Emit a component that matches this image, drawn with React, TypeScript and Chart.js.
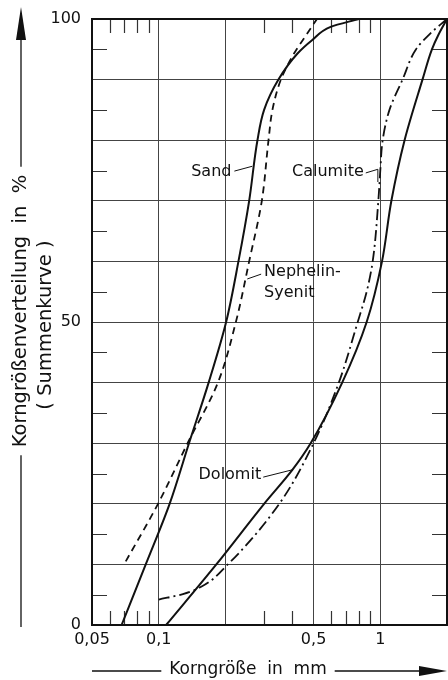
import React, { useEffect, useRef } from 'react';
import { Chart, registerables } from 'chart.js';

Chart.register(...registerables);

// ---- data ----
const sandX = [0.068, 0.0874, 0.112, 0.137, 0.168, 0.2015, 0.229, 0.256, 0.279, 0.299, 0.347, 0.423, 0.492, 0.597, 0.8];
const sandY = [0, 10, 20, 30, 40, 50, 60, 70, 80, 85, 90, 94.3, 96.5, 98.7, 100];

const nephelinX = [0.071, 0.0993, 0.135, 0.185, 0.223, 0.256, 0.292, 0.313, 0.326, 0.356, 0.408, 0.468, 0.518];
const nephelinY = [10.5, 20, 30, 40, 50, 60, 70, 80, 85, 90, 94.3, 97.6, 100];

const dolomitX = [0.108, 0.182, 0.299, 0.401, 0.485, 0.673, 0.868, 1.018, 1.122, 1.287, 1.55, 1.71, 1.83, 2.0];
const dolomitY = [0, 10, 20, 25.6, 30, 40, 50, 60, 70, 80, 90, 95, 97.4, 100];

const calumiteX = [0.1, 0.1286, 0.1555, 0.205, 0.35, 0.5, 0.65, 0.791, 0.868, 0.924, 0.98, 1.0, 1.025, 1.1, 1.26, 1.45, 1.68, 2.0];
const calumiteY = [4.2, 5.1, 6.3, 10, 20, 30, 40, 50, 55, 60, 70, 75, 80, 85, 90, 95, 97.6, 100];

const xGridValues = [0.05, 0.1, 0.2, 0.5, 1, 2];
const xTickLabels: [number, string][] = [[0.05, '0,05'], [0.1, '0,1'], [0.5, '0,5'], [1, '1']];
const xMinorTicks = [0.06, 0.07, 0.08, 0.09, 0.3, 0.4, 0.6, 0.7, 0.8, 0.9];
const yGridValues = [0, 10, 20, 30, 40, 50, 60, 70, 80, 90, 100];
const yTickLabels: [number, string][] = [[0, '0'], [50, '50'], [100, '100']];
const yMinorTicks = [5, 15, 25, 35, 45, 55, 65, 75, 85, 95];

const xTitle = 'Korngröße  in  mm';
const yTitle = 'Korngrößenverteilung  in  %';
const yTitle2 = '( Summenkurve )';

type Label = { lines: string[]; x: number; y: number; align: CanvasTextAlign; leader: [number, number][] };
const curveLabels: Label[] = [
  { lines: ['Sand'], x: 0.213, y: 74.75, align: 'right', leader: [[0.2195, 74.9], [0.2644, 75.7]] },
  { lines: ['Calumite'], x: 0.842, y: 74.75, align: 'right', leader: [[0.86, 74.6], [0.975, 75.2], [0.975, 73.1]] },
  { lines: ['Nephelin-', 'Syenit'], x: 0.299, y: 58.25, align: 'left', leader: [[0.29, 57.9], [0.251, 57.1]] },
  { lines: ['Dolomit'], x: 0.29, y: 24.75, align: 'right', leader: [[0.2963, 24.4], [0.4, 25.6]] },
];

const FONT = '"DejaVu Sans", "Liberation Sans", sans-serif';
const INK = '#111';

const pts = (xs: number[], ys: number[]) => xs.map((x, i) => ({ x, y: ys[i] }));
const labelFor = (list: [number, string][], v: number) => {
  const f = list.find(([k]) => Math.abs(k - v) / Math.max(k, 1e-9) < 1e-6 || Math.abs(k - v) < 1e-9);
  return f ? f[1] : '';
};

const decorPlugin = {
  id: 'decor',
  beforeDatasetsDraw(chart: any) {
    const { ctx, chartArea: a, scales } = chart;
    const xs = scales.x, ys = scales.y;
    ctx.save();
    ctx.strokeStyle = '#333';
    ctx.lineWidth = 1.2;
    ctx.beginPath();
    xMinorTicks.forEach((v) => {
      const px = Math.round(xs.getPixelForValue(v)) + 0.5;
      ctx.moveTo(px, a.bottom); ctx.lineTo(px, a.bottom - 14);
      ctx.moveTo(px, a.top); ctx.lineTo(px, a.top + 14);
    });
    yMinorTicks.forEach((v) => {
      const py = Math.round(ys.getPixelForValue(v)) + 0.5;
      ctx.moveTo(a.left, py); ctx.lineTo(a.left + 15, py);
      ctx.moveTo(a.right, py); ctx.lineTo(a.right - 15, py);
    });
    ctx.stroke();
    ctx.restore();
  },
  afterDatasetsDraw(chart: any) {
    const { ctx, chartArea: a, scales } = chart;
    const xs = scales.x, ys = scales.y;
    ctx.save();
    ctx.strokeStyle = INK;
    ctx.lineWidth = 2;
    ctx.strokeRect(a.left, a.top, a.right - a.left, a.bottom - a.top);
    ctx.fillStyle = INK;
    ctx.font = `16px ${FONT}`;
    ctx.textBaseline = 'middle';
    curveLabels.forEach((l) => {
      const px = xs.getPixelForValue(l.x);
      const py = ys.getPixelForValue(l.y);
      ctx.textAlign = l.align;
      l.lines.forEach((t, i) => ctx.fillText(t, px, py + i * 21));
      ctx.lineWidth = 1;
      ctx.beginPath();
      l.leader.forEach(([lx, ly], i) => {
        const qx = xs.getPixelForValue(lx), qy = ys.getPixelForValue(ly);
        if (i === 0) ctx.moveTo(qx, qy); else ctx.lineTo(qx, qy);
      });
      ctx.stroke();
    });
    ctx.restore();
  },
  afterDraw(chart: any) {
    const { ctx, chartArea: a } = chart;
    ctx.save();
    ctx.fillStyle = INK;
    ctx.strokeStyle = INK;
    ctx.lineWidth = 1.3;
    // x title
    ctx.font = `17px ${FONT}`;
    ctx.textAlign = 'center';
    ctx.textBaseline = 'middle';
    const xcx = 248, xcy = 671;
    ctx.fillText(xTitle, xcx, xcy - 1);
    const xw = ctx.measureText(xTitle).width;
    ctx.beginPath();
    ctx.moveTo(a.left, xcy); ctx.lineTo(xcx - xw / 2 - 8, xcy);
    ctx.moveTo(xcx + xw / 2 + 8, xcy); ctx.lineTo(421, xcy);
    ctx.stroke();
    ctx.beginPath();
    ctx.moveTo(447, xcy); ctx.lineTo(419, xcy - 5); ctx.lineTo(419, xcy + 5); ctx.closePath();
    ctx.fill();
    // y title
    const ycx = 21, ycy = 311;
    ctx.font = `19.5px ${FONT}`;
    const yw = ctx.measureText(yTitle).width;
    ctx.save();
    ctx.translate(ycx, ycy);
    ctx.rotate(-Math.PI / 2);
    ctx.fillText(yTitle, 0, 0);
    ctx.restore();
    ctx.save();
    ctx.translate(46, 325);
    ctx.rotate(-Math.PI / 2);
    ctx.fillText(yTitle2, 0, 0);
    ctx.restore();
    ctx.beginPath();
    ctx.moveTo(ycx, 38); ctx.lineTo(ycx, ycy - yw / 2 - 8);
    ctx.moveTo(ycx, ycy + yw / 2 + 8); ctx.lineTo(ycx, 627);
    ctx.stroke();
    ctx.beginPath();
    ctx.moveTo(ycx, 7); ctx.lineTo(ycx - 5, 40); ctx.lineTo(ycx + 5, 40); ctx.closePath();
    ctx.fill();
    ctx.restore();
  },
};

export default function App() {
  const ref = useRef<HTMLCanvasElement | null>(null);
  useEffect(() => {
    if (!ref.current) return;
    const chart = new Chart(ref.current, {
      type: 'line',
      data: {
        datasets: [
          { label: 'Sand', data: pts(sandX, sandY), borderColor: INK, borderWidth: 2 },
          { label: 'Nephelin-Syenit', data: pts(nephelinX, nephelinY), borderColor: INK, borderWidth: 1.8, borderDash: [7, 5] },
          { label: 'Calumite', data: pts(calumiteX, calumiteY), borderColor: INK, borderWidth: 1.8, borderDash: [11, 4, 2, 4] },
          { label: 'Dolomit', data: pts(dolomitX, dolomitY), borderColor: INK, borderWidth: 2 },
        ].map((d) => ({ ...d, pointRadius: 0, fill: false, cubicInterpolationMode: 'monotone' as const, backgroundColor: INK })),
      },
      options: {
        indexAxis: 'y',
        animation: false,
        responsive: false,
        events: [],
        layout: { padding: { top: 19, right: 1, left: 0, bottom: 0 } },
        plugins: { legend: { display: false }, tooltip: { enabled: false } },
        scales: {
          x: {
            type: 'logarithmic',
            position: 'bottom',
            min: 0.05,
            max: 2,
            afterBuildTicks: (s: any) => { s.ticks = xGridValues.map((v) => ({ value: v })); },
            afterFit: (s: any) => { s.height = 55; s.paddingLeft = 0; s.paddingRight = 0; },
            ticks: {
              autoSkip: false,
              maxRotation: 0,
              padding: 5,
              color: INK,
              font: { family: FONT, size: 16 },
              callback: (v: any) => labelFor(xTickLabels, Number(v)),
            },
            grid: { color: '#444', lineWidth: 1, drawTicks: false },
            border: { color: INK, width: 2 },
          },
          y: {
            type: 'linear',
            position: 'left',
            min: 0,
            max: 100,
            afterBuildTicks: (s: any) => { s.ticks = yGridValues.map((v) => ({ value: v })); },
            afterFit: (s: any) => { s.width = 92; s.paddingTop = 0; s.paddingBottom = 0; },
            ticks: {
              autoSkip: false,
              padding: 11,
              color: INK,
              font: { family: FONT, size: 16 },
              callback: (v: any) => labelFor(yTickLabels, Number(v)),
            },
            grid: { color: '#444', lineWidth: 1, drawTicks: false },
            border: { color: INK, width: 2 },
          },
        },
      },
      plugins: [decorPlugin],
    } as any);
    return () => chart.destroy();
  }, []);
  return (
    <div style={{ position: 'fixed', left: 0, top: 0, width: 448, height: 680, background: '#fff' }}>
      <canvas ref={ref} width={448} height={680} style={{ width: 448, height: 680, display: 'block' }} />
    </div>
  );
}
